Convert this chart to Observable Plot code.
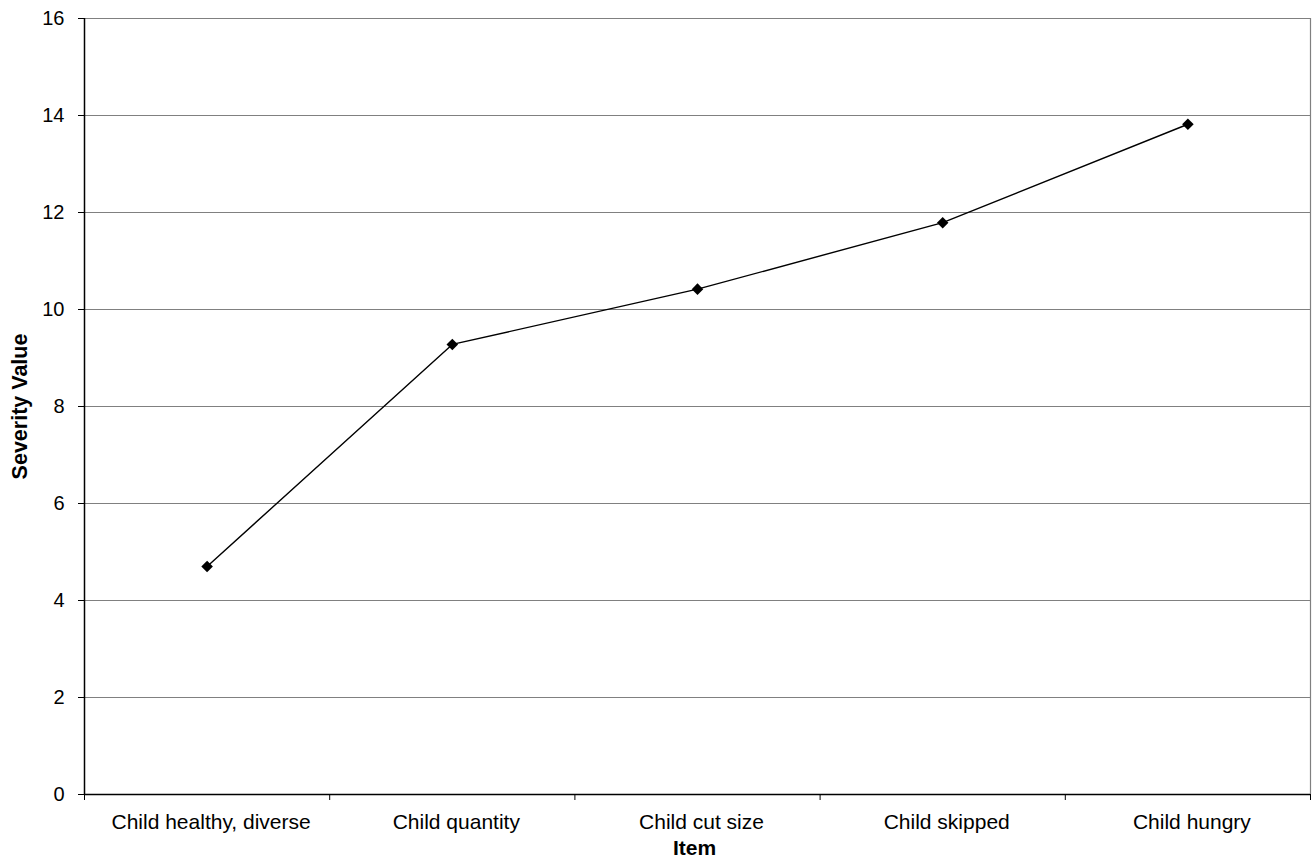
<!DOCTYPE html>
<html>
<head>
<meta charset="utf-8">
<script src="https://cdn.jsdelivr.net/npm/d3@7"></script>
<script src="https://cdn.jsdelivr.net/npm/@observablehq/plot@0.6"></script>
<style>
  html, body { margin: 0; padding: 0; background: #fff; }
  svg { font-family: "Liberation Sans", Arial, sans-serif; display: block; }
</style>
</head>
<body>
<div id="chart"></div>
<script>
const categories = ["Child healthy, diverse", "Child quantity", "Child cut size", "Child skipped", "Child hungry"];
const severity = [4.70, 9.28, 10.42, 11.79, 13.82];
const yTicks = [0, 2, 4, 6, 8, 10, 12, 14, 16];
const xTitle = "Item";
const yTitle = "Severity Value";

const data = categories.map((c, i) => ({pos: i + 0.5, category: c, value: severity[i]}));
const catPositions = categories.map((c, i) => i + 0.5);
const bandEdges = d3.range(categories.length + 1);

const chart = Plot.plot({
  width: 1314,
  height: 859,
  marginLeft: 84,
  marginRight: 4,
  marginTop: 18,
  marginBottom: 65,
  style: {fontFamily: '"Liberation Sans", Arial, sans-serif', background: "#fff", color: "#000"},
  x: {type: "linear", domain: [0, categories.length]},
  y: {domain: [0, 16]},
  marks: [
    Plot.gridY(yTicks, {stroke: "#808080", strokeOpacity: 1, strokeWidth: 1.2}),
    Plot.ruleX([categories.length], {stroke: "#808080", strokeWidth: 1.2}),
    Plot.axisY(yTicks, {tickSize: 6, tickPadding: 14, fontSize: 20, label: null, stroke: "#000"}),
    Plot.axisX(bandEdges, {tickSize: 6, tickFormat: () => "", label: null, stroke: "#000"}),
    Plot.axisX(catPositions, {tickSize: 0, tickPadding: 20, dx: 4, fontSize: 21, label: null, tickFormat: (d) => categories[Math.round(d - 0.5)]}),
    Plot.ruleX([0], {stroke: "#000", strokeWidth: 1.5}),
    Plot.ruleY([0], {stroke: "#000", strokeWidth: 1.5}),
    Plot.line(data, {x: "pos", y: "value", stroke: "#000", strokeWidth: 1.4}),
    Plot.dot(data, {x: "pos", y: "value", symbol: "diamond2", r: 5.2, fill: "#000", stroke: "none"}),
    Plot.text([yTitle], {frameAnchor: "left", textAnchor: "middle", rotate: -90, dx: -64, fontSize: 21.5, fontWeight: "bold", fill: "#000"}),
    Plot.text([xTitle], {frameAnchor: "bottom", lineAnchor: "bottom", dx: -3, dy: 60, fontSize: 21, fontWeight: "bold", fill: "#000"})
  ]
});
document.getElementById("chart").appendChild(chart);
</script>
</body>
</html>
